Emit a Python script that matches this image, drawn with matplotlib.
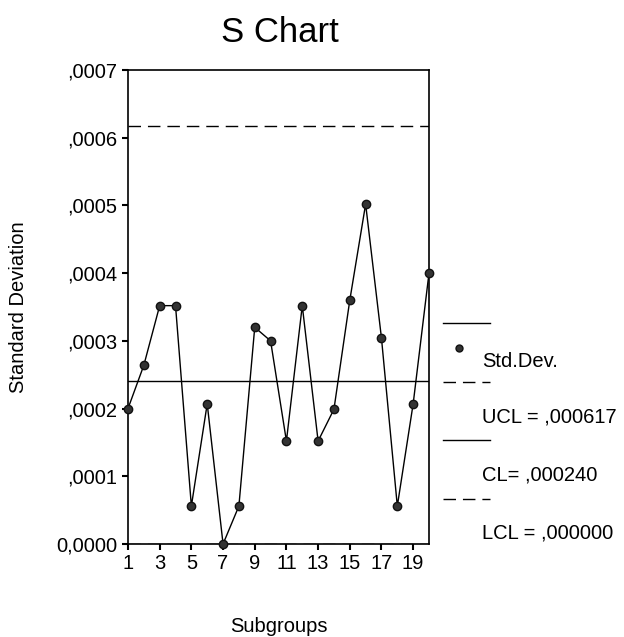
import matplotlib
matplotlib.use("Agg")
import matplotlib.pyplot as plt
from matplotlib.lines import Line2D

plt.rcParams['font.family'] = ['Liberation Sans', 'DejaVu Sans']

# subgroup standard deviations
subgroups = list(range(1, 21))
std_dev = [0.000200, 0.000264, 0.000352, 0.000352, 0.000056,
           0.000207, 0.000000, 0.000056, 0.000320, 0.000300,
           0.000152, 0.000352, 0.000152, 0.000199, 0.000360,
           0.000502, 0.000304, 0.000056, 0.000207, 0.000400]
ucl = 0.000617
cl = 0.000240
lcl = 0.000000

y_ticks = [0.0, 0.0001, 0.0002, 0.0003, 0.0004, 0.0005, 0.0006, 0.0007]
y_tick_labels = ["0,0000", ",0001", ",0002", ",0003", ",0004", ",0005", ",0006", ",0007"]
x_ticks = list(range(1, 21, 2))

W, H = 624, 637
fs = 14.5
fig = plt.figure(figsize=(W / 100, H / 100), dpi=100)
ax = fig.add_axes([128 / W, 1 - 544 / H, (429 - 128) / W, (544 - 70) / H])

ax.plot(subgroups, std_dev, color='black', lw=1.0, marker='o', ms=6,
        mfc='#333333', mec='#111111', clip_on=False, zorder=3)
ax.axhline(ucl, color='black', lw=1.0, ls=(0, (9, 5)))
ax.axhline(cl, color='black', lw=1.0)
ax.axhline(lcl, color='black', lw=1.0, ls=(0, (9, 5)))

ax.set_xlim(1, 20)
ax.set_ylim(0, 0.0007)
ax.set_xticks(x_ticks)
ax.set_xticklabels([str(v) for v in x_ticks])
ax.set_yticks(y_ticks)
ax.set_yticklabels(y_tick_labels)
ax.tick_params(direction='out', length=4, width=1.5, labelsize=fs)
ax.tick_params(axis='x', pad=3)
ax.tick_params(axis='y', pad=4)
for s in ax.spines.values():
    s.set_linewidth(1.2)

fig.text(280 / W, 1 - 33 / H, "S Chart", ha='center', va='center', fontsize=25)
fig.text(19 / W, 1 - 307 / H, "Standard Deviation", ha='center', va='center',
         rotation=90, fontsize=fs)
fig.text(279 / W, 1 - 626 / H, "Subgroups", ha='center', va='center', fontsize=fs)

# legend drawn beside the axes
def fx(px):
    return px / W

def fy(py):
    return 1 - py / H

x0, x1 = 443, 490
fig.add_artist(Line2D([fx(x0), fx(x1)], [fy(323), fy(323)], color='black', lw=1.0))
fig.add_artist(Line2D([fx(459)], [fy(348)], marker='o', ms=5, color='#333333', mec='#111111'))
fig.text(fx(482), fy(361), "Std.Dev.", ha='left', va='center', fontsize=fs)
fig.add_artist(Line2D([fx(x0), fx(x1)], [fy(382), fy(382)], color='black', lw=1.0, ls=(0, (9, 5))))
fig.text(fx(482), fy(417), "UCL = ,000617", ha='left', va='center', fontsize=fs)
fig.add_artist(Line2D([fx(x0), fx(x1)], [fy(440), fy(440)], color='black', lw=1.0))
fig.text(fx(482), fy(475), "CL= ,000240", ha='left', va='center', fontsize=fs)
fig.add_artist(Line2D([fx(x0), fx(x1)], [fy(499), fy(499)], color='black', lw=1.0, ls=(0, (9, 5))))
fig.text(fx(482), fy(533), "LCL = ,000000", ha='left', va='center', fontsize=fs)

fig.savefig("out.png", dpi=100)
